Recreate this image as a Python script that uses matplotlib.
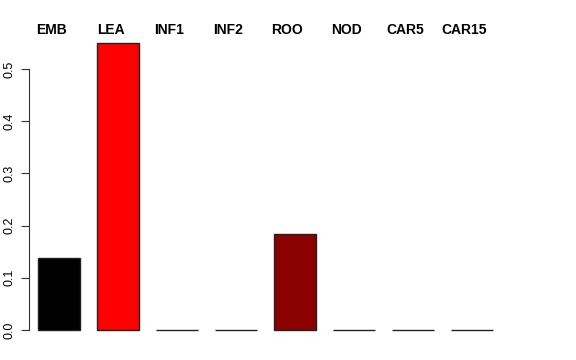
import numpy as np
import matplotlib
matplotlib.use("Agg")
import matplotlib.pyplot as plt

plt.rcParams['font.family'] = ['Liberation Sans', 'DejaVu Sans']

# tissue labels and values
tissues = ["EMB", "LEA", "INF1", "INF2", "ROO", "NOD", "CAR5", "CAR15"]
values = [0.137, 0.549, 0.0, 0.0, 0.184, 0.0, 0.0, 0.0]
colors = ["black", "red", "white", "white", "#8B0000", "white", "white", "white"]
yticks = [0.0, 0.1, 0.2, 0.3, 0.4, 0.5]

W, H = 576, 360
fig = plt.figure(figsize=(W / 100, H / 100), dpi=100)

# plot region in pixels: x from 29 to 540, y=0 at 330 px from top
left, right = 29, 540
bottom_px = 330
ymax = 0.56
top_px = bottom_px - ymax * 522
ax = fig.add_axes([left / W, (H - bottom_px) / H, (right - left) / W, (bottom_px - top_px) / H])

unit = 42.0  # px per bar width
pitch = 59.0 / unit
x = 30.0 / unit + np.arange(len(tissues)) * pitch

bars = ax.bar(x, values, width=1.0, color=colors, edgecolor="#222222", linewidth=1.0)
for b in bars:
    b.set_clip_on(False)
ax.set_xlim(0, (right - left) / unit)
ax.set_ylim(0, ymax)

# labels sit slightly left of the bar centres
for xi, name in zip(x, tissues):
    ax.text(xi - 7.5 / unit, (bottom_px - 29.5) / 522, name, ha="center", va="center",
            fontsize=10, fontweight="bold", clip_on=False)

for s in ["top", "right", "bottom"]:
    ax.spines[s].set_visible(False)
ax.spines["left"].set_bounds(0, 0.5)
ax.spines["left"].set_color("#333333")
ax.set_xticks([])
ax.set_yticks(yticks)
ax.set_yticklabels([f"{t:.1f}" for t in yticks], rotation=90, va="center", fontsize=9)
ax.tick_params(axis="y", length=6, width=0.8, color="#333333", pad=4)

fig.savefig("out.png", dpi=100)
